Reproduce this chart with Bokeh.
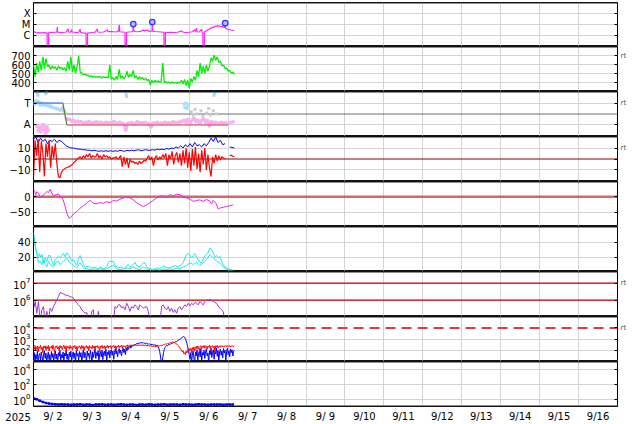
import numpy as np
from bokeh.plotting import figure
from bokeh.models import Range1d, FixedTicker, LinearAxis, LogAxis, Span
from bokeh.layouts import column
from bokeh.embed import file_html
from bokeh.resources import INLINE
from bokeh.core.properties import value

FONT = "DejaVu Sans"

# ---------------- time axis (days since 2025-09-02 00:00 UT) ----------------
day_labels = ["9/ 2", "9/ 3", "9/ 4", "9/ 5", "9/ 6", "9/ 7", "9/ 8", "9/ 9",
              "9/10", "9/11", "9/12", "9/13", "9/14", "9/15", "9/16"]
year_label = "2025"

# ---------------- panel 1 : X-ray flux ----------------
xr_t = [0.00, 0.03, 0.06, 0.10, 0.14, 0.18, 0.22, 0.26, 0.30, 0.34, 0.35, 0.355, 0.385, 0.39,
        0.42, 0.46, 0.50, 0.56, 0.60, 0.61, 0.62, 0.66, 0.70, 0.75, 0.80, 0.84, 0.89, 0.90,
        0.95, 0.98, 0.99, 1.04, 1.08, 1.15, 1.20, 1.21, 1.26, 1.30, 1.35, 1.355, 1.385, 1.39,
        1.44, 1.50, 1.58, 1.64, 1.65, 1.70, 1.80, 1.90, 1.91, 1.98, 2.06, 2.12, 2.18, 2.205,
        2.215, 2.28, 2.35, 2.355, 2.385, 2.39, 2.45, 2.52, 2.555, 2.564, 2.575, 2.62, 2.68,
        2.75, 2.82, 2.86, 2.92, 2.96, 3.02, 3.045, 3.051, 3.06, 3.12, 3.20, 3.28, 3.35, 3.355,
        3.385, 3.39, 3.45, 3.52, 3.60, 3.70, 3.80, 3.85, 3.92, 4.00, 4.08, 4.146, 4.16, 4.19,
        4.20, 4.26, 4.318, 4.33, 4.35, 4.355, 4.385, 4.39, 4.42, 4.47, 4.52, 4.57, 4.62, 4.67,
        4.72, 4.77, 4.82, 4.87, 4.915, 4.923, 4.935, 4.97, 5.02, 5.07, 5.12, 5.15]
xr_v = [2.1e-6, 1.9e-6, 1.7e-6, 1.6e-6, 1.65e-6, 1.55e-6, 1.6e-6, 1.7e-6, 1.6e-6, 1.55e-6, 1.6e-6, 1e-9, 1e-9, 1.6e-6,
        1.7e-6, 1.8e-6, 1.7e-6, 1.8e-6, 1.8e-6, 5.3e-6, 1.9e-6, 1.7e-6, 1.8e-6, 1.7e-6, 1.8e-6, 1.9e-6, 3.7e-6, 1.9e-6,
        1.8e-6, 3.0e-6, 1.9e-6, 1.8e-6, 1.7e-6, 1.7e-6, 3.4e-6, 1.8e-6, 1.6e-6, 1.5e-6, 1.5e-6, 1e-9, 1e-9, 1.5e-6,
        1.6e-6, 1.7e-6, 1.8e-6, 3.5e-6, 1.9e-6, 1.8e-6, 1.9e-6, 2.9e-6, 2.0e-6, 2.1e-6, 2.0e-6, 1.9e-6, 2.2e-6, 8.6e-6,
        2.0e-6, 1.9e-6, 1.8e-6, 1e-9, 1e-9, 1.8e-6, 1.9e-6, 2.0e-6, 2.2e-6, 1.0e-5, 2.3e-6, 2.1e-6, 2.0e-6,
        2.2e-6, 2.8e-6, 2.4e-6, 2.9e-6, 2.2e-6, 2.3e-6, 2.4e-6, 1.5e-5, 2.3e-6, 2.1e-6, 2.0e-6, 1.9e-6, 1.8e-6, 1e-9,
        1e-9, 1.8e-6, 1.7e-6, 1.8e-6, 1.7e-6, 1.8e-6, 2.4e-6, 1.8e-6, 1.7e-6, 1.8e-6, 2.0e-6, 3.0e-6, 2.1e-6, 4.3e-6,
        2.0e-6, 1.9e-6, 3.5e-6, 1.7e-6, 1.6e-6, 1e-9, 1e-9, 2.0e-6, 2.2e-6, 2.8e-6, 3.6e-6, 4.5e-6, 5.3e-6, 6.2e-6,
        6.8e-6, 6.5e-6, 6.0e-6, 5.5e-6, 5.0e-6, 1.2e-5, 4.2e-6, 3.5e-6, 3.2e-6, 2.9e-6, 2.7e-6, 2.6e-6]
flare_t = [2.564, 3.051, 4.923]
flare_v = [1.0e-5, 1.5e-5, 1.2e-5]
xray_ticks = [1e-4, 1e-5, 1e-6]
xray_labels = ["X", "M", "C"]

# ---------------- panel 2 : solar wind speed (every 0.04 d) ----------------
vsw = [600, 470, 620, 520, 640, 540, 690, 560, 670, 580, 600, 550, 590, 560, 580, 540, 590, 560, 575, 545,
       570, 530, 640, 540, 690, 520, 600, 510, 580, 700, 520, 510, 490, 500, 480, 490, 470, 480, 465, 475,
       460, 470, 465, 470, 455, 470, 460, 465, 455, 600, 440, 460, 430, 470, 440, 550, 450, 480, 445, 470,
       530, 460, 495, 470, 540, 455, 480, 440, 470, 445, 460, 430, 455, 425, 440, 380, 430, 400, 430, 410,
       425, 405, 420, 620, 405, 415, 400, 410, 395, 410, 398, 405, 395, 410, 400, 430, 390, 440, 370, 430,
       345, 450, 410, 470, 430, 540, 470, 620, 500, 590, 510, 600, 530, 580, 680, 640, 710, 650, 690, 630,
       640, 590, 600, 560, 565, 530, 540, 510, 520, 495]
vsw_ticks = [700, 600, 500, 400]

# ---------------- panel 3 : IMF sector (T / A) ----------------
sector_blue_t = [0.0, 0.754]
sector_blue_v = [1.0, 1.0]
sector_green_t = [0.754, 0.856]
sector_green_v = [1.0, -1.0]
sector_red_t = [0.856, 5.0]
sector_red_v = [-1.0, -1.0]
toward_t = [0.00, 0.03, 0.06, 0.09, 0.12, 0.15, 0.18, 0.21, 0.24, 0.27, 0.30, 0.33, 0.36, 0.39, 0.42,
            0.45, 0.48, 0.51, 0.54, 0.57, 0.60, 0.63, 0.66, 0.69, 0.72]
toward_v = [1.1, 0.8, 1.3, 0.9, 1.2, 1.0, 0.7, 1.1, 0.8, 0.95, 0.7, 0.9, 0.8, 0.65, 0.85, 0.55, 0.7, 0.5,
            0.6, 0.45, 0.55, 0.4, 0.45, 0.3, 0.35]
toward_pt_t = [0.095, 0.103, 0.115, 0.313, 0.338, 2.377, 2.390, 3.864, 3.890, 3.915, 3.941, 3.967, 4.633, 4.659]
toward_pt_v = [1.8, 2.0, 1.7, 1.85, 1.95, 1.8, 1.6, 0.9, 0.6, 1.0, 0.5, 0.8, 1.7, 1.9]
away_start_t = [0.10, 0.13, 0.16, 0.19, 0.22, 0.25, 0.28, 0.31, 0.34, 0.37]
away_start_v = [-1.1, -1.5, -1.2, -1.6, -1.3, -1.0, -1.4, -1.7, -1.2, -1.5]
away_v = [-0.3, -0.55, -0.4, -0.7, -0.5, -0.8, -0.6, -0.75, -0.65, -0.9,
          -0.7, -0.85, -0.6, -0.9, -0.75, -0.8, -0.65, -0.95, -0.7, -0.85,
          -0.8, -0.7, -0.9, -0.75, -0.85, -0.6, -0.9, -0.8, -0.7, -0.95,
          -0.8, -1.6, -0.75, -0.9, -0.7, -1.0, -0.8, -0.65, -0.9, -0.75,
          -0.85, -0.7, -1.0, -0.8, -1.3, -0.75, -0.9, -0.7, -0.85, -0.8,
          -0.95, -0.7, -0.85, -0.75, -0.9, -0.65, -0.8, -0.7, -0.9, -0.6,
          -0.75, -0.5, -0.85, -0.4, -0.9, -0.55, -0.3, -0.8, -0.5, -0.9,
          -0.6, -0.4, -0.85, -0.5, -1.2, -0.6, -0.9, -0.7, -0.8, -0.9,
          -0.7, -0.85, -0.75, -0.9, -0.8, -0.75, -0.7, -0.7]
grey_t = [0.74, 0.76, 0.78, 0.80, 0.82, 4.05, 4.10, 4.15, 4.20, 4.30, 4.35, 4.45, 4.50, 4.55, 4.62, 4.70]
grey_v = [0.55, 0.4, 0.3, 0.2, 0.1, 0.2, -0.1, 0.4, 0.0, 0.3, -0.2, 0.1, 0.5, -0.1, 0.3, 0.0]
sector_ticks = [1, -1]
sector_labels = ["T", "A"]

# ---------------- panel 4 : IMF Bt (every 0.06 d) and Bz (every 0.04 d) ----------------
bt = [18, 20, 15, 19, 16, 18, 14, 17, 16, 18, 15, 17, 16, 14, 12, 11, 10,
      10, 9.5, 9, 9, 8.5, 8.5, 8, 8, 7.5, 8, 7.5, 7, 7.5, 7, 7.5, 7, 7.5,
      7, 7.5, 7, 8, 7.5, 7, 8, 7.5, 8, 7.5, 8, 8.5, 7.5, 8, 8.5, 8, 8,
      8.5, 8, 9, 8.5, 9, 8.5, 9.5, 9, 10, 9.5, 11, 10, 12, 10, 13, 11, 14,
      11, 15, 12, 13, 11, 14, 12, 15, 19, 16, 20, 15, 17, 13, 14, np.nan, 11, 10.5, 10]
bz = [-17, 17, 3, 18, -12, 16, 6, -16, 14, 2,
      17, -8, 12, 1, 14, -4, -16, -17, -12, -10,
      -9, -8, -7.5, -7, -6, -5, -3, -2, 0, 1,
      2, 0, 3, 1, 4, 2, 5, 1, 3, 2,
      2, 5, 1, 3, 0, 4, 2, 3, 1, 2,
      0, 1, 1, 2, 0, 1, 3, -7, 2, -5,
      1, -8, 0, -3, -2, -4, -3, -5, -2, -4,
      -3, -1, -2, 1, 3, -1, 2, -6, 1, 3,
      -1, 2, 0, 4, 1, 5, -6, 4, 0, 7,
      -5, 3, 6, -3, 5, -6, 8, -4, 10, -8,
      6, -11, 9, -6, 11, -9, 5, -12, 8, -5,
      10, -10, 4, -8, -16, 2, -4, 4, -2, 3,
      -1, 2, 1, 0, np.nan, np.nan, 3, 3.5, 2.5, 2]
b_ticks = [10, 0, -10]
b_labels = ["10", "0", "\u221210"]

# ---------------- panel 5 : Dst ----------------
dst_t = [0.000, 0.026, 0.060, 0.085, 0.128, 0.171, 0.239, 0.299, 0.342, 0.385, 0.427, 0.470, 0.513,
         0.581, 0.641, 0.684, 0.744, 0.812, 0.855, 0.915, 0.957, 1.026, 1.111, 1.197, 1.282, 1.350,
         1.410, 1.470, 1.538, 1.624, 1.709, 1.795, 1.880, 1.966, 2.051, 2.137, 2.222, 2.308, 2.393,
         2.479, 2.564, 2.650, 2.735, 2.821, 2.906, 2.991, 3.077, 3.162, 3.248, 3.333, 3.419, 3.504,
         3.590, 3.675, 3.761, 3.846, 3.932, 4.017, 4.103, 4.188, 4.274, 4.359, 4.444, 4.530, 4.573,
         4.615, 4.684, 4.744, 4.786, 4.872, 4.957, 5.043, 5.128]
dst_v = [28, 17, 7, 17, 12, -1, 3, 12, 17, 14, 25, 12, 3,
         7, 9, 1, -4, -31, -53, -70, -67, -56, -48, -37, -29, -23,
         -15, -12, -21, -23, -19, -21, -16, -19, -12, -14, -8, -4, 1,
         -4, -10, -19, -26, -32, -26, -19, -12, -4, 3, 3, 1, 7,
         3, 8, 7, 1, -4, -8, -15, -12, -10, -15, -8, -15, -23,
         -12, -21, -40, -37, -34, -32, -29, -26]
dst_ticks = [0, -50]
dst_labels = ["0", "\u221250"]

# ---------------- panel 6 : proton density (two sources) ----------------
na_t = [0.000, 0.026, 0.051, 0.085, 0.128, 0.154, 0.188, 0.222, 0.256, 0.299, 0.342, 0.385, 0.427,
        0.470, 0.513, 0.556, 0.598, 0.641, 0.684, 0.726, 0.769, 0.812, 0.855, 0.897, 0.940, 0.983,
        1.026, 1.068, 1.111, 1.154, 1.197, 1.239, 1.282, 1.325, 1.410, 1.496, 1.581, 1.667, 1.709,
        1.795, 1.880, 1.923, 1.966, 2.051, 2.094, 2.179, 2.265, 2.350, 2.393, 2.436, 2.479, 2.564,
        2.607, 2.650, 2.735, 2.778, 2.821, 2.863, 2.906, 2.991, 3.077, 3.162, 3.248, 3.333, 3.376,
        3.462, 3.547, 3.632, 3.718, 3.803, 3.846, 3.889, 3.932, 3.974, 4.017, 4.060, 4.103, 4.145,
        4.188, 4.231, 4.274, 4.316, 4.359, 4.402, 4.444, 4.487, 4.530, 4.573, 4.615, 4.658, 4.701,
        4.744, 4.786, 4.829, 4.872, 4.915, 4.957, 5.043, 5.128]
na_v = [52.4, 45.7, 32.4, 25.7, 19.0, 24.8, 19.0, 23.5, 12.3, 19.0, 14.5, 22.1, 22.1,
        14.5, 10.1, 16.7, 19.0, 21.2, 19.0, 22.1, 24.8, 20.3, 25.7, 23.5, 19.0, 14.5,
        16.7, 12.3, 8.7, 16.7, 22.1, 16.7, 10.1, 6.9, 7.8, 5.6, 6.5, 4.3, 6.9,
        4.3, 6.9, 12.3, 14.5, 14.5, 8.7, 5.6, 6.9, 4.3, 8.7, 10.1, 6.9, 10.1,
        13.2, 8.7, 6.9, 10.1, 12.3, 12.3, 6.9, 4.3, 3.4, 5.6, 4.3, 8.7, 6.9,
        5.6, 6.9, 8.7, 6.9, 10.1, 12.3, 19.0, 23.5, 24.8, 22.1, 19.0, 22.1, 24.8,
        20.3, 16.7, 13.2, 12.3, 17.6, 21.2, 23.5, 26.6, 32.4, 30.1, 25.7, 20.3, 22.1,
        19.0, 21.2, 14.5, 10.1, 6.9, 5.6, 3.4, 2.5]
nb_t = [0.000, 0.043, 0.085, 0.128, 0.171, 0.214, 0.256, 0.299, 0.342, 0.385, 0.427, 0.513, 0.556,
        0.641, 0.684, 0.769, 0.855, 0.940, 1.026, 1.111, 1.197, 1.282, 1.368, 1.453, 1.538, 1.624,
        1.709, 1.795, 1.880, 1.966, 2.051, 2.137, 2.222, 2.308, 2.393, 2.479, 2.564, 2.650, 2.735,
        2.821, 2.906, 2.991, 3.077, 3.162, 3.248, 3.333, 3.419, 3.504, 3.590, 3.675, 3.761, 3.846,
        3.932, 4.017, 4.103, 4.188, 4.274, 4.359, 4.444, 4.530, 4.615, 4.701, 4.786, 4.872, 4.957,
        5.043, 5.128]
nb_v = [48.0, 34.6, 23.5, 12.3, 14.5, 10.1, 16.7, 10.1, 6.9, 14.5, 10.1, 6.9, 12.3,
        14.5, 10.1, 14.5, 19.0, 12.3, 8.7, 5.6, 12.3, 5.6, 4.3, 3.4, 4.3, 3.4,
        4.3, 3.4, 4.3, 6.9, 8.7, 4.3, 3.4, 4.3, 5.6, 4.3, 6.9, 4.3, 3.4,
        6.9, 4.3, 3.4, 2.5, 3.4, 2.5, 4.3, 3.4, 4.3, 3.4, 5.6, 4.3, 6.9,
        8.7, 12.3, 10.1, 13.2, 8.7, 12.3, 16.7, 23.5, 19.0, 14.5, 12.3, 6.9, 4.3,
        2.5, 2.5]
n_ticks = [40, 20]

# ---------------- panel 7 : electron flux ----------------
el_t = [0.000, 0.026, 0.043, 0.085, 0.128, 0.171, 0.214, 0.256, 0.299, 0.342, 0.385, 0.427, 0.470,
        0.513, 0.556, 0.598, 0.641, 0.684, 0.726, 0.769, 0.812, 0.855, 0.897, 0.940, 0.983, 1.026,
        1.068, 1.111, 1.154, 1.197, 1.239, 1.282, 1.325, 1.368, 1.410, 1.453, 1.496, 1.538, 1.564,
        1.624, 1.667, 1.709, 2.051, 2.094, 2.137, 2.179, 2.222, 2.265, 2.308, 2.350, 2.393, 2.436,
        2.479, 2.521, 2.564, 2.607, 2.650, 2.692, 2.735, 2.778, 2.821, 2.863, 2.906, 2.949, 2.991,
        3.248, 3.291, 3.333, 3.376, 3.419, 3.462, 3.504, 3.547, 3.590, 3.632, 3.675, 3.718, 3.761,
        3.803, 3.846, 3.889, 3.932, 3.974, 4.017, 4.060, 4.103, 4.145, 4.188, 4.231, 4.274, 4.316,
        4.359, 4.402, 4.444, 4.487, 4.530, 4.573, 4.615, 4.658, 4.701, 4.744, 4.786, 4.829, 4.872,
        4.915]
el_v = [1.05e6, 4.2e5, 8.3e5, 1.7e5, 8.3e5, 5e4, 2.7e5, 4.2e5, 5e4, 2.2e5, 5e4, 3.4e5, 2.2e5,
        4.2e5, 6.6e5, 1.05e6, 1.6e6, 2.8e6, 2.6e6, 2.3e6, 2.0e6, 1.95e6, 1.8e6, 1.6e6, 1.5e6, 1.3e6,
        9.6e5, 6.6e5, 5.3e5, 4.2e5, 2.7e5, 2.2e5, 1.7e5, 1.9e5, 5e4, 5e4, 2.2e5, 2.7e5, 5e4,
        5e4, 2.2e5, 5e4, 5e4, 4.2e5, 3.4e5, 5.3e5, 5.3e5, 3.4e5, 4.2e5, 2.7e5, 6.6e5, 4.2e5,
        2.2e5, 4.2e5, 3.4e5, 5.3e5, 4.2e5, 2.7e5, 5.3e5, 4.2e5, 3.4e5, 3.9e5, 4.2e5, 2.2e5, 5e4,
        5e4, 4.2e5, 5.3e5, 3.4e5, 2.7e5, 4.2e5, 2.2e5, 3.4e5, 1.9e5, 2.7e5, 1.7e5, 3.4e5, 4.2e5,
        2.7e5, 3.9e5, 5.3e5, 4.2e5, 6.6e5, 4.6e5, 6.6e5, 5.3e5, 7.3e5, 6.6e5, 5.3e5, 8.3e5, 6.6e5,
        5.3e5, 8.3e5, 1.05e6, 9.6e5, 1.15e6, 9.6e5, 8.3e5, 7.3e5, 6.6e5, 4.6e5, 3.4e5, 2.7e5, 2.2e5,
        5e4]
el_ticks = [1e7, 1e6]

# ---------------- panel 8 : proton flux (every 0.02 d) ----------------
pf_red = [210, 120, 260, 90, 180, 240, 70, 200, 150, 280,
          110, 190, 60, 230, 160, 250, 100, 210, 140, 270,
          80, 200, 170, 240, 120, 290, 150, 60, 220, 180,
          250, 130, 200, 90, 260, 160, 230, 110, 190, 280,
          140, 220, 70, 250, 170, 210, 120, 270, 150, 200,
          100, 240, 180, 260, 130, 220, 80, 200, 160, 250,
          190, 120, 270, 150, 230, 100, 210, 180, 260, 140,
          220, 90, 250, 170, 200, 130, 280, 160, 230, 110,
          240, 190, 260, 150, 210, 70, 230, 180, 270, 140,
          200, 250, 120, 220, 170, 280, 150, 240, 190, 260,
          130, 230, 200, 270, 160, 250, 100, 220, 190, 280,
          170, 240, 210, 290, 150, 260, 200, 230, 180, 270,
          220, 300, 190, 260, 240, 310, 210, 280, 250, 300,
          270, 320, 240, 290, 280, 310, 250, 300, 270, 290,
          260, 310, 240, 280, 300, 250, 290, 230, 270, 240,
          260, 220, 250, 200, 240, 210, 260, 190, 230, 250,
          220, 270, 240, 260, 280, 250, 300, 320, 300, 350,
          370, 340, 400, 420, 390, 450, 480, 460, 510, 530,
          500, 470, 440, 400, 360, 300, 250, 200, 160, 120,
          100, 70, 90, 50, 60, 40, 80, 55, 110, 70,
          130, 90, 150, 60, 170, 110, 200, 80, 160, 220,
          130, 240, 170, 90, 210, 260, 140, 230, 180, 270,
          150, 250, 200, 120, 230, 180, 280, 140, 240, 200,
          260, 170, 230, 60, 250, 190, 270, 150, 220, 240,
          180, 260, 210, 250, 190, 240, 220, 260, 200, 250,
          230, 210, 260, 190, 240, 220, 250, 200, 230]
pf_blue = [20, 60, 8, 40, 15, 80, 6, 35, 50, 12,
           70, 25, 7, 45, 90, 18, 55, 9, 30, 65,
           14, 40, 6, 75, 22, 50, 10, 35, 85, 16,
           45, 7, 60, 28, 95, 12, 40, 20, 70, 8,
           55, 30, 100, 15, 45, 6, 65, 25, 80, 11,
           38, 70, 18, 55, 7, 90, 30, 50, 13, 75,
           24, 60, 9, 42, 110, 20, 65, 35, 8, 85,
           28, 55, 15, 95, 40, 6, 70, 22, 50, 120,
           18, 60, 32, 90, 10, 45, 75, 25, 100, 14,
           55, 80, 30, 120, 9, 65, 40, 95, 20, 70,
           110, 35, 85, 15, 60, 130, 45, 90, 25, 75,
           140, 50, 100, 30, 80, 150, 60, 120, 40, 170,
           90, 200, 120, 180, 240, 150, 280, 220, 300, 260,
           340, 300, 380, 420, 360, 450, 400, 500, 440, 470,
           430, 480, 400, 450, 380, 420, 360, 400, 340, 380,
           320, 360, 300, 340, 280, 320, 260, 300, 240, 280,
           200, 150, 80, 30, 10, 6, 20, 60, 120, 180,
           220, 260, 240, 300, 330, 310, 370, 400, 380, 450,
           500, 480, 560, 620, 600, 700, 780, 850, 950, 1100,
           1250, 1400, 1550, 1700, 1500, 1100, 700, 400, 200, 90,
           40, 15, 60, 8, 35, 90, 20, 6, 70, 30,
           110, 12, 50, 80, 25, 140, 9, 60, 35, 100,
           18, 75, 130, 30, 55, 7, 90, 40, 150, 22,
           65, 110, 15, 80, 45, 160, 28, 95, 10, 70,
           120, 35, 85, 20, 140, 55, 100, 12, 75, 150,
           40, 90, 25, 130, 60, 110, 30, 80, 100]
pf_ticks = [1e4, 1e3, 1e2]
pf_threshold = 1e4

# ---------------- panel 9 : (every 0.08 d) ----------------
p9_v = [1.35, 1.05, 0.65, 0.45, 0.33, 0.27, 0.23, 0.22, 0.21, 0.22, 0.2, 0.21, 0.19, 0.21, 0.2,
        0.22, 0.19, 0.21, 0.2, 0.18, 0.21, 0.2, 0.22, 0.19, 0.2, 0.21, 0.19, 0.2, 0.22, 0.2,
        0.19, 0.21, 0.2, 0.18, 0.2, 0.21, 0.19, 0.22, 0.2, 0.19, 0.21, 0.2, 0.22, 0.19, 0.2,
        0.21, 0.2, 0.19, 0.22, 0.2, 0.21, 0.19, 0.2, 0.22, 0.21, 0.2, 0.19, 0.21, 0.2, 0.2,
        0.21, 0.19, 0.2, 0.21, 0.2]
p9_ticks = [1e4, 1e2, 1e0]

# =====================================================================
W = 632
LEFT = 33
RIGHT = 15
FW = W - LEFT - RIGHT          # frame width (584 px for 15 days)
xr = Range1d(0, 15)
GRID = "#d4d4d4"


def style_axis(ax, size="10px"):
    ax.axis_line_color = None
    ax.major_tick_in = 3
    ax.major_tick_out = 0
    ax.major_tick_line_color = "black"
    ax.minor_tick_line_color = None
    ax.major_label_text_font = FONT
    ax.major_label_text_font_size = size
    ax.major_label_text_color = "black"


def panel(yr, log=False, ticks=(), labels=None, grid=(), rt=False, ph=45, top=0, bottom=0):
    p = figure(width=W, height=ph + top + bottom, x_range=xr, y_range=yr,
               y_axis_type="log" if log else "linear",
               output_backend="svg", toolbar_location=None,
               min_border_left=LEFT, min_border_right=RIGHT,
               min_border_top=top, min_border_bottom=bottom)
    p.outline_line_color = "black"
    p.outline_line_width = 1
    p.xgrid.ticker = FixedTicker(ticks=list(range(1, 15)))
    p.xgrid.grid_line_color = GRID
    p.ygrid.ticker = FixedTicker(ticks=list(grid))
    p.ygrid.grid_line_color = GRID
    ya = p.yaxis[0]
    ya.ticker = FixedTicker(ticks=list(ticks))
    if labels is not None:
        ya.major_label_overrides = {t: l for t, l in zip(ticks, labels)}
    style_axis(ya)
    ya.major_label_standoff = 3
    rticks = list(ticks)
    Ax = LogAxis if log else LinearAxis
    ra = Ax(ticker=FixedTicker(ticks=rticks))
    ra.major_label_overrides = {t: ("rt" if (rt and i == 0) else "") for i, t in enumerate(rticks)}
    style_axis(ra, "7px")
    ra.major_label_text_color = "#555555"
    ra.major_label_standoff = 3
    p.add_layout(ra, "right")
    p.add_layout(Span(location=yr.end, dimension="width", line_color="#222222", line_width=2))
    p.add_layout(Span(location=yr.start, dimension="width", line_color="#222222", line_width=2))
    p.xaxis.visible = False
    return p


def hline(p, loc, color, width=1, dash="solid", alpha=1.0):
    p.add_layout(Span(location=loc, dimension="width", line_color=color, line_width=width,
                      line_dash=dash, line_alpha=alpha, level="underlay"))


figs = []

# 1 X-ray
p1 = panel(Range1d(10 ** -7.04, 10 ** -3.04), log=True, ticks=xray_ticks, labels=xray_labels,
           grid=xray_ticks, ph=44, top=2)
p1.line(xr_t, xr_v, line_color="#ff22ff", line_width=1.2)
p1.scatter(flare_t, flare_v, marker="circle", size=5.5, line_color="#3030ff", fill_color="#b8b8ff",
           line_width=1.2)
figs.append(p1)

# 2 speed
p2 = panel(Range1d(305, 805), ticks=vsw_ticks, grid=vsw_ticks, rt=True)
p2.line(np.arange(len(vsw)) * 0.04, vsw, line_color="#00ee00", line_width=1.3)
figs.append(p2)

# 3 sector
p3 = panel(Range1d(-2.05, 2.05), ticks=sector_ticks, labels=sector_labels, grid=sector_ticks, rt=True)
hline(p3, 0, "#6e6e6e", 1)
p3.line(np.arange(len(away_v)) * 0.05 + 0.82, away_v, line_color="#f6b2f0", line_width=3)
p3.scatter(away_start_t, away_start_v, marker="square", size=4, line_color=None, fill_color="#f6b2f0")
p3.line(toward_t, toward_v, line_color="#a6def8", line_width=3)
p3.scatter(toward_pt_t, toward_pt_v, marker="square", size=3, line_color=None, fill_color="#a6def8")
p3.scatter(grey_t, grey_v, marker="square", size=3, line_color=None, fill_color="#cccccc")
p3.line(sector_blue_t, sector_blue_v, line_color="#3a4ae8", line_width=1.2)
p3.line(sector_green_t, sector_green_v, line_color="#3c8a3c", line_width=1.2)
p3.line(sector_red_t, sector_red_v, line_color="#e83a3a", line_width=1.2)
figs.append(p3)

# 4 IMF
p4 = panel(Range1d(-20.5, 20.5), ticks=b_ticks, labels=b_labels, grid=[10, -10], rt=True)
hline(p4, 0, "#8b0000", 1)
p4.line(np.arange(len(bt)) * 0.06, bt, line_color="#0000ee", line_width=1)
p4.line(np.arange(len(bz)) * 0.04, bz, line_color="#ff0000", line_width=1.2)
figs.append(p4)

# 5 Dst
p5 = panel(Range1d(-97, 50), ticks=dst_ticks, labels=dst_labels, grid=[-50])
hline(p5, 0, "#d06868", 2.5)
p5.line(dst_t, dst_v, line_color="#ee22ee", line_width=1)
figs.append(p5)

# 6 density
p6 = panel(Range1d(0.8, 60.8), ticks=n_ticks, grid=n_ticks)
p6.line(nb_t, nb_v, line_color="#22e6ee", line_width=1)
p6.line(na_t, na_v, line_color="#22e6ee", line_width=1)
figs.append(p6)

# 7 electrons
p7 = panel(Range1d(10 ** 5.04, 10 ** 7.68), log=True, ticks=el_ticks, grid=el_ticks, rt=True)
for lv in el_ticks:
    hline(p7, lv, "#cc0000", 1.2)
p7.line(el_t, el_v, line_color="#a035d5", line_width=1)
figs.append(p7)

# 8 protons
p8 = panel(Range1d(10 ** 0.98, 10 ** 5.03), log=True, ticks=pf_ticks, grid=[1e3, 1e2], rt=True)
hline(p8, pf_threshold, "#e03c3c", 2, dash="10 6")
p8.line(np.arange(len(pf_blue)) * 0.02, pf_blue, line_color="#0000ff", line_width=1)
p8.line(np.arange(len(pf_red)) * 0.02, pf_red, line_color="#ff0000", line_width=1)
figs.append(p8)

# 9
p9 = panel(Range1d(10 ** -0.96, 10 ** 5.04), log=True, ticks=p9_ticks, grid=p9_ticks, bottom=1)
p9_t = np.arange(len(p9_v)) * 0.08
p9.line(p9_t, p9_v, line_color="#0000ee", line_width=1.5)
p9.scatter(p9_t, p9_v, marker="square", size=2.5, line_color=None, fill_color="#0000ee")
figs.append(p9)

# date labels strip (same day scale as the panels, extended over the margins)
dpx = FW / 15.0
tx = figure(width=W, height=15, y_range=Range1d(0, 1),
            output_backend="svg", toolbar_location=None, x_axis_location=None, y_axis_location=None,
            min_border_left=0, min_border_right=0, min_border_top=0, min_border_bottom=0)
try:
    tx.frame_align = False
    tx.x_range = Range1d(-LEFT / dpx, (W - LEFT) / dpx)
except Exception:
    tx.min_border_left = LEFT
    tx.min_border_right = RIGHT
    tx.x_range = Range1d(0, 15)
tx.outline_line_color = None
tx.grid.visible = False
tx.text(x=[i + 0.5 for i in range(len(day_labels))], y=[0.4] * len(day_labels), text=day_labels,
        text_align="center", text_baseline="middle", text_font=value(FONT),
        text_font_size=value("10px"), text_color="black")
tx.text(x=[-0.07], y=[0.4], text=[year_label], text_align="right", text_baseline="middle",
        text_font=value(FONT), text_font_size=value("10px"), text_color="black")
figs.append(tx)

layout = column(*figs)
open("out.html", "w").write(file_html(layout, INLINE))
